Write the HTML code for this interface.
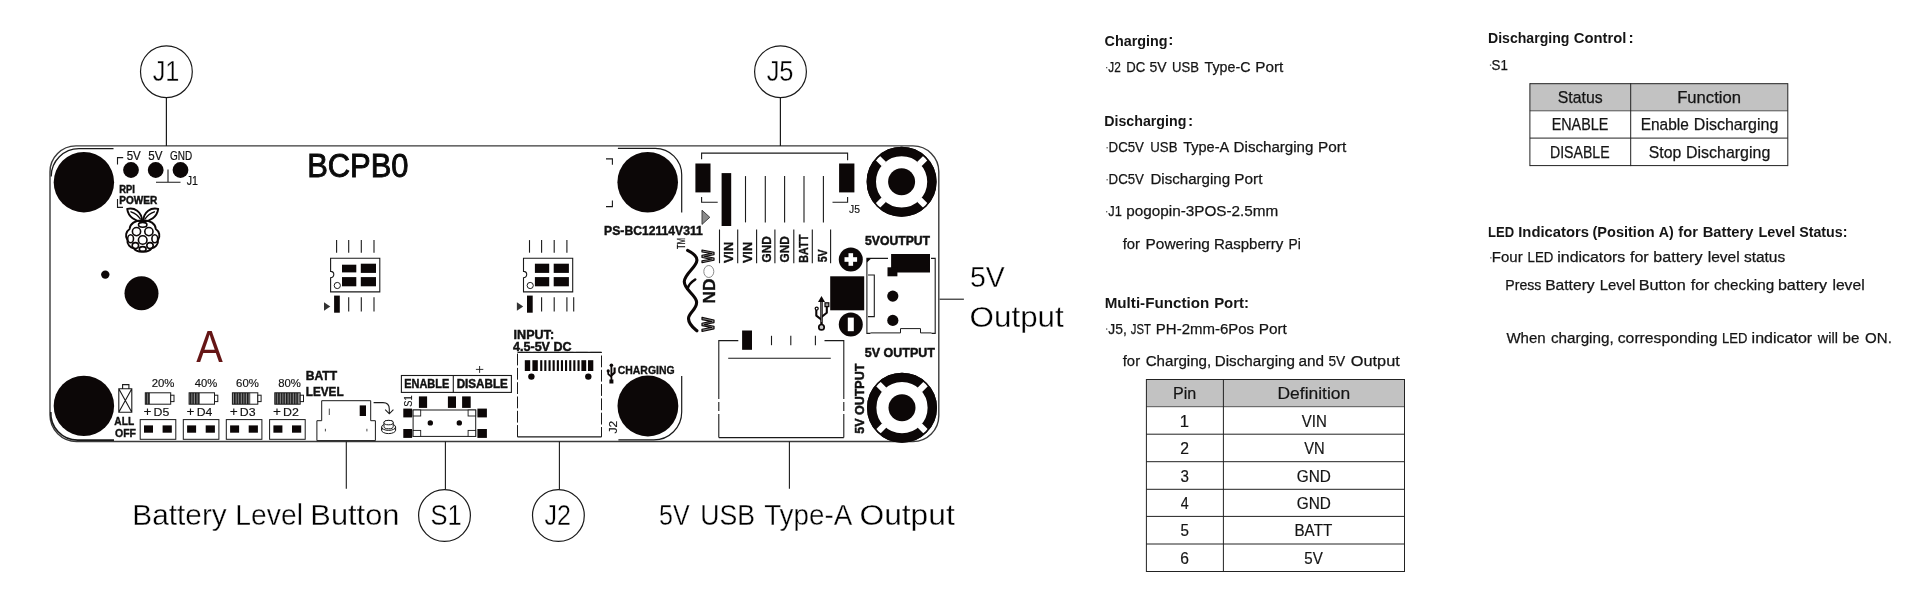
<!DOCTYPE html>
<html><head><meta charset="utf-8"><title>BCPB0</title>
<style>
html,body{margin:0;padding:0;background:#fff;overflow:hidden}
svg{display:block;will-change:transform;font-family:"Liberation Sans",sans-serif}
text{white-space:pre}
</style></head><body>
<svg width="1920" height="595" viewBox="0 0 1920 595">
<rect width="1920" height="595" fill="#fff"/>
<g id="board">
<path d="M76,145.9 H913 A25.8,25.8 0 0 1 938.8,171.7 V415.7 A25.8,25.8 0 0 1 913,441.5 H76.5 A26.5,26.5 0 0 1 50,415 V172 A26,26 0 0 1 76,145.9 Z" fill="none" stroke="#3a3a3a" stroke-width="1.4"/>
<circle cx="166.4" cy="71.7" r="25.9" fill="none" stroke="#1a1a1a" stroke-width="1.2"/>
<line x1="166.4" y1="97.6" x2="166.4" y2="145.9" stroke="#1a1a1a" stroke-width="1.2"/>
<text x="152.64" y="80.7" font-size="30.0" textLength="26.76" lengthAdjust="spacingAndGlyphs" stroke="#fff" stroke-width="0.35" fill="#000">J1</text>
<circle cx="780.5" cy="71.7" r="25.9" fill="none" stroke="#1a1a1a" stroke-width="1.2"/>
<line x1="780.4" y1="97.6" x2="780.4" y2="145.9" stroke="#1a1a1a" stroke-width="1.2"/>
<text x="766.64" y="80.7" font-size="30.0" textLength="26.88" lengthAdjust="spacingAndGlyphs" stroke="#fff" stroke-width="0.35" fill="#000">J5</text>
<line x1="346.3" y1="441.5" x2="346.3" y2="488.8" stroke="#1a1a1a" stroke-width="1.1"/>
<text x="132.34" y="524.7" font-size="30.0" textLength="94.45" lengthAdjust="spacingAndGlyphs" stroke="#fff" stroke-width="0.35" fill="#000">Battery</text>
<text x="235.36" y="524.7" font-size="30.0" textLength="67.57" lengthAdjust="spacingAndGlyphs" stroke="#fff" stroke-width="0.35" fill="#000">Level</text>
<text x="310.36" y="524.7" font-size="30.0" textLength="89.08" lengthAdjust="spacingAndGlyphs" stroke="#fff" stroke-width="0.35" fill="#000">Button</text>
<line x1="445.4" y1="441.5" x2="445.4" y2="489.6" stroke="#1a1a1a" stroke-width="1.1"/>
<circle cx="444.5" cy="515.5" r="25.9" fill="none" stroke="#1a1a1a" stroke-width="1.2"/>
<text x="430.48" y="524.7" font-size="30.0" textLength="31.23" lengthAdjust="spacingAndGlyphs" stroke="#fff" stroke-width="0.35" fill="#000">S1</text>
<line x1="559.4" y1="441.5" x2="559.4" y2="489.6" stroke="#1a1a1a" stroke-width="1.1"/>
<circle cx="558.4" cy="515.5" r="25.9" fill="none" stroke="#1a1a1a" stroke-width="1.2"/>
<text x="544.45" y="524.7" font-size="30.0" textLength="26.44" lengthAdjust="spacingAndGlyphs" stroke="#fff" stroke-width="0.35" fill="#000">J2</text>
<line x1="789.4" y1="441.5" x2="789.4" y2="488.8" stroke="#1a1a1a" stroke-width="1.1"/>
<text x="659.02" y="524.7" font-size="30.0" textLength="30.59" lengthAdjust="spacingAndGlyphs" stroke="#fff" stroke-width="0.35" fill="#000">5V</text>
<text x="700.13" y="524.7" font-size="30.0" textLength="54.81" lengthAdjust="spacingAndGlyphs" stroke="#fff" stroke-width="0.35" fill="#000">USB</text>
<text x="764.17" y="524.7" font-size="30.0" textLength="88.09" lengthAdjust="spacingAndGlyphs" stroke="#fff" stroke-width="0.35" fill="#000">Type-A</text>
<text x="859.50" y="524.7" font-size="30.0" textLength="95.22" lengthAdjust="spacingAndGlyphs" stroke="#fff" stroke-width="0.35" fill="#000">Output</text>
<line x1="939.6" y1="299.2" x2="963.9" y2="299.2" stroke="#1a1a1a" stroke-width="1.1"/>
<text x="969.89" y="287.4" font-size="30.0" textLength="34.75" lengthAdjust="spacingAndGlyphs" stroke="#fff" stroke-width="0.35" fill="#000">5V</text>
<text x="969.61" y="327.2" font-size="30.0" textLength="94.10" lengthAdjust="spacingAndGlyphs" stroke="#fff" stroke-width="0.35" fill="#000">Output</text>
<circle cx="83.9" cy="182.2" r="30.2" fill="#0c0707"/>
<circle cx="83.9" cy="405.9" r="30.2" fill="#0c0707"/>
<circle cx="647.7" cy="182.2" r="30.3" fill="#0c0707"/>
<circle cx="647.9" cy="406.0" r="30.4" fill="#0c0707"/>
<path d="M113.5,148.6 H79 A27.8,27.8 0 0 0 51.2,176.4" fill="none" stroke="#1a1a1a" stroke-width="1.3"/>
<path d="M50.8,412 A26.8,26.8 0 0 0 77.6,440.1 H114" fill="none" stroke="#1a1a1a" stroke-width="1.6"/>
<path d="M617.9,148.3 H655.2 A26.5,26.5 0 0 1 681.7,174.8 V212.6" fill="none" stroke="#1a1a1a" stroke-width="1.2"/>
<path d="M681.7,375.9 V412 A27.9,27.9 0 0 1 653.8,439.9 H618.4" fill="none" stroke="#1a1a1a" stroke-width="1.2"/>
<path d="M606,158.9 H612.4 V164.8" fill="none" stroke="#1a1a1a" stroke-width="1.1"/>
<path d="M606,206.6 H612.4 V200.5" fill="none" stroke="#1a1a1a" stroke-width="1.1"/>
<text x="307.18" y="176.5" font-size="32.6" textLength="101.39" lengthAdjust="spacingAndGlyphs" stroke="#0a0a0a" stroke-width="0.9" fill="#0a0a0a">BCPB0</text>
<circle cx="131.0" cy="170.0" r="7.9" fill="#0c0707"/>
<circle cx="155.7" cy="170.0" r="7.9" fill="#0c0707"/>
<circle cx="180.5" cy="170.0" r="7.9" fill="#0c0707"/>
<text x="126.64" y="160.4" font-size="12.4" textLength="14.13" lengthAdjust="spacingAndGlyphs" stroke="#111" stroke-width="0.2" fill="#111">5V</text>
<text x="148.34" y="160.4" font-size="12.4" textLength="14.13" lengthAdjust="spacingAndGlyphs" stroke="#111" stroke-width="0.2" fill="#111">5V</text>
<text x="170.10" y="160.4" font-size="12.4" textLength="22.17" lengthAdjust="spacingAndGlyphs" stroke="#111" stroke-width="0.2" fill="#111">GND</text>
<path d="M123.2,157.6 H117.5 V164.6" fill="none" stroke="#1a1a1a" stroke-width="1.1"/>
<path d="M117.5,199 V207.4 H123" fill="none" stroke="#1a1a1a" stroke-width="1.1"/>
<path d="M168,169.6 V182.2 M156,182.2 H180.5" fill="none" stroke="#1a1a1a" stroke-width="1.1"/>
<text x="186.84" y="184.9" font-size="12" textLength="11.17" lengthAdjust="spacingAndGlyphs" stroke="#111" stroke-width="0.2" fill="#111">J1</text>
<text x="119.32" y="193.2" font-size="10.2" font-weight="bold" textLength="15.56" lengthAdjust="spacingAndGlyphs" stroke="#111" stroke-width="0.45" fill="#111">RPI</text>
<text x="119.27" y="204.3" font-size="10.4" font-weight="bold" textLength="37.91" lengthAdjust="spacingAndGlyphs" stroke="#111" stroke-width="0.45" fill="#111">POWER</text>
<g fill="none" stroke="#0c0707" stroke-width="1.9" stroke-linecap="round" stroke-linejoin="round">
<path d="M142.2,221.2 C135.6,221.8 128.2,217 127.2,208.9 C134.4,207.2 141.6,211.2 142.2,221.2 Z"/>
<path d="M143.2,221.2 C149.8,221.8 157.2,217 158.2,208.9 C151,207.2 143.8,211.2 143.2,221.2 Z"/>
<path d="M131,211.8 C134.4,213 138.4,215.8 140.4,219 M154.4,211.8 C151,213 147,215.8 145,219" stroke-width="1.4"/>
<path d="M142.7,220.6 C135,220 130,223.8 129.6,229 C126,231.4 124.8,236.2 127.4,240.2 C126.8,244.6 130.4,247.8 133.8,248.4 C135.8,251 139.6,252 142.7,251.8 C145.8,252 149.6,251 151.6,248.4 C155,247.8 158.6,244.6 158,240.2 C160.6,236.2 159.4,231.4 155.8,229 C155.400,223.8 150.4,220 142.7,220.6 Z"/>
<ellipse cx="136.5" cy="231.6" rx="4.1" ry="4.1" stroke-width="1.6"/>
<ellipse cx="148.9" cy="231.6" rx="4.1" ry="4.1" stroke-width="1.6"/>
<ellipse cx="142.7" cy="240" rx="4.3" ry="4.3" stroke-width="1.6"/>
<ellipse cx="142.7" cy="224.8" rx="4.2" ry="2.4" stroke-width="1.6"/>
<ellipse cx="130.6" cy="238.8" rx="2.9" ry="4.0" stroke-width="1.6"/>
<ellipse cx="154.8" cy="238.8" rx="2.9" ry="4.0" stroke-width="1.6"/>
<ellipse cx="135.4" cy="245.6" rx="3.2" ry="3.0" stroke-width="1.6"/>
<ellipse cx="150" cy="245.6" rx="3.2" ry="3.0" stroke-width="1.6"/>
<ellipse cx="142.7" cy="248.9" rx="3.4" ry="2.3" stroke-width="1.6"/>
</g>
<circle cx="105.3" cy="274.6" r="4.2" fill="#0c0707"/>
<circle cx="141.5" cy="293.2" r="17.0" fill="#0c0707"/>
<text x="196.30" y="362.2" font-size="44.8" textLength="26.58" lengthAdjust="spacingAndGlyphs" fill="#651616">A</text>
<path d="M118.8,388.7 H131.8 V412.2 H118.8 Z M122.6,388.7 V384.6 H128.9 V388.7 M118.8,388.7 L131.8,412.2 M131.8,388.7 L118.8,412.2" fill="none" stroke="#1a1a1a" stroke-width="1.1"/>
<text x="114.32" y="424.9" font-size="10.6" font-weight="bold" textLength="19.80" lengthAdjust="spacingAndGlyphs" stroke="#111" stroke-width="0.35" fill="#111">ALL</text>
<text x="114.95" y="436.9" font-size="10.8" font-weight="bold" textLength="21.06" lengthAdjust="spacingAndGlyphs" stroke="#111" stroke-width="0.35" fill="#111">OFF</text>
<defs><pattern id="hat" width="2.6" height="4" patternUnits="userSpaceOnUse"><rect width="2.6" height="4" fill="#8a8a8a"/><rect width="1.5" height="4" fill="#1a1a1a"/></pattern></defs>
<rect x="145.3" y="392.8" width="4.6" height="11.4" fill="url(#hat)"/>
<rect x="145.3" y="392.8" width="25.4" height="11.4" fill="none" stroke="#1a1a1a" stroke-width="1"/>
<rect x="170.7" y="395.2" width="3.3" height="6.4" fill="#fff" stroke="#1a1a1a" stroke-width="1"/>
<text x="151.71" y="386.9" font-size="11.2" textLength="22.81" lengthAdjust="spacingAndGlyphs" stroke="#111" stroke-width="0.15" fill="#111">20%</text>
<text x="143.43" y="416.2" font-size="12" textLength="7.97" lengthAdjust="spacingAndGlyphs" stroke="#111" stroke-width="0.15" fill="#111">+</text>
<text x="153.49" y="416.2" font-size="11.4" textLength="15.74" lengthAdjust="spacingAndGlyphs" stroke="#111" stroke-width="0.15" fill="#111">D5</text>
<rect x="140.2" y="419.6" width="35.6" height="19.7" fill="none" stroke="#1a1a1a" stroke-width="1"/>
<rect x="144.0" y="425.4" width="9.0" height="7.3" fill="#0c0707"/>
<rect x="162.6" y="425.4" width="9.2" height="7.3" fill="#0c0707"/>
<rect x="189.1" y="392.8" width="10.9" height="11.4" fill="url(#hat)"/>
<rect x="189.1" y="392.8" width="25.4" height="11.4" fill="none" stroke="#1a1a1a" stroke-width="1"/>
<rect x="214.5" y="395.2" width="3.3" height="6.4" fill="#fff" stroke="#1a1a1a" stroke-width="1"/>
<text x="194.82" y="386.9" font-size="11.2" textLength="22.48" lengthAdjust="spacingAndGlyphs" stroke="#111" stroke-width="0.15" fill="#111">40%</text>
<text x="186.63" y="416.2" font-size="12" textLength="7.97" lengthAdjust="spacingAndGlyphs" stroke="#111" stroke-width="0.15" fill="#111">+</text>
<text x="196.70" y="416.2" font-size="11.4" textLength="15.57" lengthAdjust="spacingAndGlyphs" stroke="#111" stroke-width="0.15" fill="#111">D4</text>
<rect x="183.3" y="419.6" width="35.6" height="19.7" fill="none" stroke="#1a1a1a" stroke-width="1"/>
<rect x="187.1" y="425.4" width="9.0" height="7.3" fill="#0c0707"/>
<rect x="205.7" y="425.4" width="9.2" height="7.3" fill="#0c0707"/>
<rect x="232.4" y="392.8" width="17.8" height="11.4" fill="url(#hat)"/>
<rect x="232.4" y="392.8" width="25.4" height="11.4" fill="none" stroke="#1a1a1a" stroke-width="1"/>
<rect x="257.8" y="395.2" width="3.3" height="6.4" fill="#fff" stroke="#1a1a1a" stroke-width="1"/>
<text x="236.11" y="386.9" font-size="11.2" textLength="22.81" lengthAdjust="spacingAndGlyphs" stroke="#111" stroke-width="0.15" fill="#111">60%</text>
<text x="229.73" y="416.2" font-size="12" textLength="7.97" lengthAdjust="spacingAndGlyphs" stroke="#111" stroke-width="0.15" fill="#111">+</text>
<text x="239.79" y="416.2" font-size="11.4" textLength="15.77" lengthAdjust="spacingAndGlyphs" stroke="#111" stroke-width="0.15" fill="#111">D3</text>
<rect x="226.3" y="419.6" width="35.6" height="19.7" fill="none" stroke="#1a1a1a" stroke-width="1"/>
<rect x="230.1" y="425.4" width="9.0" height="7.3" fill="#0c0707"/>
<rect x="248.7" y="425.4" width="9.2" height="7.3" fill="#0c0707"/>
<rect x="274.8" y="392.8" width="24.6" height="11.4" fill="url(#hat)"/>
<rect x="274.8" y="392.8" width="25.4" height="11.4" fill="none" stroke="#1a1a1a" stroke-width="1"/>
<rect x="300.2" y="395.2" width="3.3" height="6.4" fill="#fff" stroke="#1a1a1a" stroke-width="1"/>
<text x="278.19" y="386.9" font-size="11.2" textLength="22.72" lengthAdjust="spacingAndGlyphs" stroke="#111" stroke-width="0.15" fill="#111">80%</text>
<text x="273.03" y="416.2" font-size="12" textLength="7.97" lengthAdjust="spacingAndGlyphs" stroke="#111" stroke-width="0.15" fill="#111">+</text>
<text x="283.08" y="416.2" font-size="11.4" textLength="15.84" lengthAdjust="spacingAndGlyphs" stroke="#111" stroke-width="0.15" fill="#111">D2</text>
<rect x="269.6" y="419.6" width="35.6" height="19.7" fill="none" stroke="#1a1a1a" stroke-width="1"/>
<rect x="273.4" y="425.4" width="9.0" height="7.3" fill="#0c0707"/>
<rect x="292.0" y="425.4" width="9.2" height="7.3" fill="#0c0707"/>
<text x="305.74" y="380.3" font-size="12.6" font-weight="bold" textLength="31.35" lengthAdjust="spacingAndGlyphs" stroke="#111" stroke-width="0.45" fill="#111">BATT</text>
<text x="305.76" y="395.8" font-size="12.6" font-weight="bold" textLength="37.84" lengthAdjust="spacingAndGlyphs" stroke="#111" stroke-width="0.45" fill="#111">LEVEL</text>
<path d="M321.7,420.7 V400.7 H370.7 V420.7 H375.4 V440.6 H316.9 V420.7 Z" fill="#fff" stroke="#1a1a1a" stroke-width="1"/>
<rect x="359.7" y="405.4" width="6.3" height="10.6" fill="#0c0707"/>
<line x1="329.3" y1="408.6" x2="329.3" y2="415.0" stroke="#1a1a1a" stroke-width="0.8"/>
<line x1="325.4" y1="428.8" x2="325.4" y2="431.4" stroke="#1a1a1a" stroke-width="0.8"/>
<line x1="366.9" y1="428.8" x2="366.9" y2="431.4" stroke="#1a1a1a" stroke-width="0.8"/>
<path d="M373.6,402.6 H383 Q389.3,402.6 389.3,409 V413.4 M385.2,409.6 L389.3,413.8 L393.4,409.6" fill="none" stroke="#1a1a1a" stroke-width="1.1"/>
<g fill="#fff" stroke="#1a1a1a" stroke-width="1">
<ellipse cx="388.6" cy="430.2" rx="7" ry="3.4"/>
<path d="M381.6,427 V430.2 M395.6,427 V430.2" />
<ellipse cx="388.6" cy="427" rx="7" ry="3.4"/>
<path d="M384,426.6 V422.6 A4.6,2.2 0 0 1 393.2,422.6 V426.6 A4.6,2.2 0 0 1 384,426.6 Z"/>
<ellipse cx="388.6" cy="422.6" rx="4.6" ry="2.2"/>
</g>
<rect x="401.4" y="375.5" width="110.0" height="16.9" fill="none" stroke="#1a1a1a" stroke-width="1.1"/>
<line x1="453.3" y1="375.5" x2="453.3" y2="392.4" stroke="#1a1a1a" stroke-width="1.1"/>
<text x="404.32" y="387.8" font-size="11.9" font-weight="bold" textLength="44.86" lengthAdjust="spacingAndGlyphs" stroke="#111" stroke-width="0.45" fill="#111">ENABLE</text>
<text x="456.67" y="387.8" font-size="11.9" font-weight="bold" textLength="51.14" lengthAdjust="spacingAndGlyphs" stroke="#111" stroke-width="0.45" fill="#111">DISABLE</text>
<path d="M475.9,369.4 H483.3 M479.6,366 V372.9" fill="none" stroke="#1a1a1a" stroke-width="0.9"/>
<text transform="translate(411.8,406.74) rotate(-90)" font-size="10.8" textLength="11.31" lengthAdjust="spacingAndGlyphs" stroke="#111" stroke-width="0.15" fill="#111">S1</text>
<rect x="418.9" y="396.4" width="8.2" height="11.5" fill="#0c0707"/>
<rect x="447.9" y="396.4" width="8.1" height="11.5" fill="#0c0707"/>
<rect x="462.1" y="396.4" width="8.6" height="11.5" fill="#0c0707"/>
<rect x="413.1" y="410.0" width="62.6" height="26.4" fill="#fff" stroke="#1a1a1a" stroke-width="1"/>
<rect x="413.1" y="410.0" width="7.6" height="6.0" fill="#fff" stroke="#1a1a1a" stroke-width="0.9"/>
<rect x="468.1" y="410.0" width="7.6" height="6.0" fill="#fff" stroke="#1a1a1a" stroke-width="0.9"/>
<rect x="413.1" y="430.4" width="7.6" height="6.0" fill="#fff" stroke="#1a1a1a" stroke-width="0.9"/>
<rect x="468.1" y="430.4" width="7.6" height="6.0" fill="#fff" stroke="#1a1a1a" stroke-width="0.9"/>
<rect x="403.3" y="408.6" width="8.8" height="8.8" fill="#0c0707"/>
<rect x="403.3" y="429.0" width="8.8" height="8.9" fill="#0c0707"/>
<rect x="477.4" y="408.6" width="9.5" height="8.8" fill="#0c0707"/>
<rect x="477.4" y="429.0" width="9.5" height="8.9" fill="#0c0707"/>
<circle cx="430.3" cy="422.9" r="2.7" fill="#0c0707"/>
<circle cx="459.3" cy="422.9" r="2.7" fill="#0c0707"/>
<line x1="336.6" y1="240.1" x2="336.6" y2="252.7" stroke="#1a1a1a" stroke-width="1.1"/>
<line x1="348.7" y1="240.1" x2="348.7" y2="252.7" stroke="#1a1a1a" stroke-width="1.1"/>
<line x1="361.3" y1="240.1" x2="361.3" y2="252.7" stroke="#1a1a1a" stroke-width="1.1"/>
<line x1="374.0" y1="240.1" x2="374.0" y2="252.7" stroke="#1a1a1a" stroke-width="1.1"/>
<path d="M330.6,258.3 H379.8 V291.9 H330.6 V277.8 A3.2,3.2 0 0 0 330.6,271.4 Z" fill="none" stroke="#1a1a1a" stroke-width="1.1"/>
<rect x="342.0" y="264.7" width="14.3" height="7.7" fill="#0c0707"/>
<rect x="360.8" y="263.7" width="15.2" height="9.2" fill="#0c0707"/>
<rect x="342.0" y="277.1" width="14.3" height="9.2" fill="#0c0707"/>
<rect x="360.8" y="277.1" width="15.2" height="9.2" fill="#0c0707"/>
<circle cx="337.3" cy="285.5" r="3.1" fill="#fff" stroke="#1a1a1a" stroke-width="1"/>
<path d="M324.0,302.3 L330.3,306.5 L324.0,310.7 Z" fill="#333" stroke="none" stroke-width="1.1"/>
<rect x="334.1" y="295.6" width="5.7" height="17.1" fill="#0c0707"/>
<line x1="348.7" y1="297.3" x2="348.7" y2="311.6" stroke="#1a1a1a" stroke-width="1.1"/>
<line x1="361.3" y1="297.3" x2="361.3" y2="311.6" stroke="#1a1a1a" stroke-width="1.1"/>
<line x1="374.0" y1="297.3" x2="374.0" y2="311.6" stroke="#1a1a1a" stroke-width="1.1"/>
<line x1="529.5" y1="240.1" x2="529.5" y2="252.7" stroke="#1a1a1a" stroke-width="1.1"/>
<line x1="541.6" y1="240.1" x2="541.6" y2="252.7" stroke="#1a1a1a" stroke-width="1.1"/>
<line x1="554.2" y1="240.1" x2="554.2" y2="252.7" stroke="#1a1a1a" stroke-width="1.1"/>
<line x1="566.9" y1="240.1" x2="566.9" y2="252.7" stroke="#1a1a1a" stroke-width="1.1"/>
<path d="M523.5,258.3 H572.7 V291.9 H523.5 V277.8 A3.2,3.2 0 0 0 523.5,271.4 Z" fill="none" stroke="#1a1a1a" stroke-width="1.1"/>
<rect x="534.9" y="263.7" width="14.3" height="9.2" fill="#0c0707"/>
<rect x="553.7" y="263.7" width="15.2" height="9.2" fill="#0c0707"/>
<rect x="534.9" y="277.1" width="14.3" height="9.2" fill="#0c0707"/>
<rect x="553.7" y="277.1" width="15.2" height="9.2" fill="#0c0707"/>
<circle cx="530.2" cy="285.5" r="3.1" fill="#fff" stroke="#1a1a1a" stroke-width="1"/>
<path d="M516.9,302.3 L523.2,306.5 L516.9,310.7 Z" fill="#333" stroke="none" stroke-width="1.1"/>
<rect x="527.0" y="295.6" width="5.7" height="17.1" fill="#0c0707"/>
<line x1="541.6" y1="297.3" x2="541.6" y2="311.6" stroke="#1a1a1a" stroke-width="1.1"/>
<line x1="554.2" y1="297.3" x2="554.2" y2="311.6" stroke="#1a1a1a" stroke-width="1.1"/>
<line x1="566.9" y1="297.3" x2="566.9" y2="311.6" stroke="#1a1a1a" stroke-width="1.1"/>
<line x1="573.7" y1="297.3" x2="573.7" y2="311.6" stroke="#1a1a1a" stroke-width="1.1"/>
<text x="513.61" y="339.0" font-size="12.5" font-weight="bold" textLength="40.46" lengthAdjust="spacingAndGlyphs" stroke="#111" stroke-width="0.45" fill="#111">INPUT:</text>
<text x="513.04" y="351.2" font-size="12" font-weight="bold" textLength="58.57" lengthAdjust="spacingAndGlyphs" stroke="#111" stroke-width="0.45" fill="#111">4.5-5V DC</text>
<path d="M517.5,436.9 V352.4 H601.5 V436.9" fill="none" stroke="#1a1a1a" stroke-width="1" stroke-dasharray="11.8 2.5"/>
<line x1="517.5" y1="352.4" x2="601.5" y2="352.4" stroke="#1a1a1a" stroke-width="1.1"/>
<line x1="517.5" y1="436.9" x2="601.5" y2="436.9" stroke="#1a1a1a" stroke-width="1.1"/>
<rect x="524.8" y="360.2" width="5.4" height="10.8" fill="#0c0707"/>
<rect x="532.4" y="360.2" width="5.4" height="10.8" fill="#0c0707"/>
<rect x="540.2" y="360.2" width="2.1" height="10.8" fill="#0c0707"/>
<rect x="544.3" y="360.2" width="2.1" height="10.8" fill="#0c0707"/>
<rect x="548.5" y="360.2" width="2.1" height="10.8" fill="#0c0707"/>
<rect x="552.6" y="360.2" width="2.1" height="10.8" fill="#0c0707"/>
<rect x="556.8" y="360.2" width="2.1" height="10.8" fill="#0c0707"/>
<rect x="560.9" y="360.2" width="2.1" height="10.8" fill="#0c0707"/>
<rect x="565.0" y="360.2" width="2.1" height="10.8" fill="#0c0707"/>
<rect x="569.2" y="360.2" width="2.1" height="10.8" fill="#0c0707"/>
<rect x="573.3" y="360.2" width="2.1" height="10.8" fill="#0c0707"/>
<rect x="577.5" y="360.2" width="2.1" height="10.8" fill="#0c0707"/>
<rect x="581.4" y="360.2" width="4.8" height="10.8" fill="#0c0707"/>
<rect x="588.0" y="360.2" width="5.3" height="10.8" fill="#0c0707"/>
<circle cx="531.4" cy="376.6" r="3.2" fill="#0c0707"/>
<circle cx="588.3" cy="376.6" r="3.2" fill="#0c0707"/>
<g fill="none" stroke="#0c0707" stroke-linejoin="round">
<path d="M611.4,364.8 V381" stroke-width="1.8"/>
<path d="M611.4,376.8 L608.2,374 V371.2" stroke-width="1.7"/>
<path d="M611.4,375.4 L614.6,372.6 V367.6" stroke-width="2.1"/>
</g>
<circle cx="611.4" cy="365.3" r="1.8" fill="#0c0707"/>
<circle cx="608.2" cy="370.9" r="1.6" fill="#0c0707"/>
<rect x="609.4" y="379.5" width="4.0" height="4.0" fill="#0c0707"/>
<text x="617.76" y="374.3" font-size="11.3" font-weight="bold" textLength="56.79" lengthAdjust="spacingAndGlyphs" stroke="#111" stroke-width="0.35" fill="#111">CHARGING</text>
<text transform="translate(617.2,433.51) rotate(-90)" font-size="11.6" textLength="12.72" lengthAdjust="spacingAndGlyphs" stroke="#111" stroke-width="0.15" fill="#111">J2</text>
<text x="604.14" y="235.0" font-size="12.1" font-weight="bold" textLength="98.64" lengthAdjust="spacingAndGlyphs" stroke="#111" stroke-width="0.45" fill="#111">PS-BC12114V311</text>
<path d="M701.6,159.3 V153.1 H847.6 V160.2" fill="none" stroke="#1a1a1a" stroke-width="1.1"/>
<rect x="695.4" y="163.5" width="15.1" height="28.9" fill="#0c0707"/>
<rect x="839.1" y="163.5" width="15.3" height="28.9" fill="#0c0707"/>
<path d="M701.6,197.1 V202.2 H717.7" fill="none" stroke="#1a1a1a" stroke-width="1.1"/>
<path d="M847.6,197.1 V202.2 H832.5" fill="none" stroke="#1a1a1a" stroke-width="1.1"/>
<path d="M702,210.2 L709.8,217.3 L702,224.4 Z" fill="#8a8a8a" stroke="#333" stroke-width="0.9"/>
<rect x="721.6" y="173.1" width="9.6" height="52.9" fill="#0c0707"/>
<line x1="745.5" y1="176.1" x2="745.5" y2="222.4" stroke="#1a1a1a" stroke-width="1.1"/>
<line x1="765.3" y1="176.1" x2="765.3" y2="222.4" stroke="#1a1a1a" stroke-width="1.1"/>
<line x1="784.6" y1="176.1" x2="784.6" y2="222.4" stroke="#1a1a1a" stroke-width="1.1"/>
<line x1="804.0" y1="176.1" x2="804.0" y2="222.4" stroke="#1a1a1a" stroke-width="1.1"/>
<line x1="823.4" y1="176.1" x2="823.4" y2="222.4" stroke="#1a1a1a" stroke-width="1.1"/>
<text x="849.12" y="213.2" font-size="10.6" textLength="10.93" lengthAdjust="spacingAndGlyphs" stroke="#111" stroke-width="0.15" fill="#111">J5</text>
<line x1="719.5" y1="229.5" x2="719.5" y2="263.2" stroke="#1a1a1a" stroke-width="1.1"/>
<line x1="737.7" y1="229.5" x2="737.7" y2="263.2" stroke="#1a1a1a" stroke-width="1.1"/>
<line x1="756.6" y1="229.5" x2="756.6" y2="263.2" stroke="#1a1a1a" stroke-width="1.1"/>
<line x1="774.9" y1="229.5" x2="774.9" y2="263.2" stroke="#1a1a1a" stroke-width="1.1"/>
<line x1="793.8" y1="229.5" x2="793.8" y2="263.2" stroke="#1a1a1a" stroke-width="1.1"/>
<line x1="812.3" y1="229.5" x2="812.3" y2="263.2" stroke="#1a1a1a" stroke-width="1.1"/>
<line x1="830.6" y1="229.5" x2="830.6" y2="263.2" stroke="#1a1a1a" stroke-width="1.1"/>
<text transform="translate(733.0,263.09) rotate(-90)" font-size="13.4" font-weight="bold" textLength="21.16" lengthAdjust="spacingAndGlyphs" stroke="#111" stroke-width="0.35" fill="#111">VIN</text>
<text transform="translate(752.0,263.09) rotate(-90)" font-size="13.4" font-weight="bold" textLength="21.16" lengthAdjust="spacingAndGlyphs" stroke="#111" stroke-width="0.35" fill="#111">VIN</text>
<text transform="translate(771.0,262.50) rotate(-90)" font-size="13.4" font-weight="bold" textLength="26.19" lengthAdjust="spacingAndGlyphs" stroke="#111" stroke-width="0.35" fill="#111">GND</text>
<text transform="translate(789.4,262.50) rotate(-90)" font-size="13.4" font-weight="bold" textLength="26.19" lengthAdjust="spacingAndGlyphs" stroke="#111" stroke-width="0.35" fill="#111">GND</text>
<text transform="translate(807.8,262.73) rotate(-90)" font-size="13.4" font-weight="bold" textLength="28.06" lengthAdjust="spacingAndGlyphs" stroke="#111" stroke-width="0.35" fill="#111">BATT</text>
<text transform="translate(826.6,262.34) rotate(-90)" font-size="13.4" font-weight="bold" textLength="13.03" lengthAdjust="spacingAndGlyphs" stroke="#111" stroke-width="0.35" fill="#111">5V</text>
<text transform="translate(685.3,248.92) rotate(-90)" font-size="11.2" textLength="10.81" lengthAdjust="spacingAndGlyphs" stroke="#111" stroke-width="0.25" fill="#111">TM</text>
<path d="M687.6,250.4 C692.5,252.8 697.2,255.8 696.9,260.4 C696.4,267.5 684.8,273.5 684.3,281.5 C683.9,289 694.5,294 696.4,301 C698.4,308.5 688.4,312.5 688.5,318.6 C688.6,324.4 693.5,328 696.9,330.8" fill="none" stroke="#0c0707" stroke-width="3.1" stroke-linecap="round"/>
<path d="M695.2,279.5 C691,282.2 688.4,285.4 687.6,288.7" fill="none" stroke="#0c0707" stroke-width="2.6" stroke-linecap="round"/>
<text transform="translate(714.4,331.38) rotate(-90)" font-size="16.6" font-weight="bold" textLength="14.13" lengthAdjust="spacingAndGlyphs" stroke="#0c0707" stroke-width="1.25" stroke-linejoin="round" fill="#8c8c8c">W</text>
<text transform="translate(715.0,303.45) rotate(-90)" font-size="16.8" font-weight="bold" textLength="24.95" lengthAdjust="spacingAndGlyphs" stroke="#111" stroke-width="0.35" fill="#111">ND</text>
<ellipse cx="708.8" cy="271.5" rx="5" ry="6" fill="none" stroke="#8a8a8a" stroke-width="1"/>
<text transform="translate(714.4,262.77) rotate(-90)" font-size="16.6" font-weight="bold" textLength="12.83" lengthAdjust="spacingAndGlyphs" stroke="#0c0707" stroke-width="1.25" stroke-linejoin="round" fill="#8c8c8c">W</text>
<circle cx="901.6" cy="181.8" r="30.3" fill="none" stroke="#0c0707" stroke-width="9.4"/>
<rect x="926.6" y="178.7" width="9.6" height="6.2" fill="#fff" transform="rotate(45 901.6 181.8)"/>
<rect x="926.6" y="178.7" width="9.6" height="6.2" fill="#fff" transform="rotate(135 901.6 181.8)"/>
<rect x="926.6" y="178.7" width="9.6" height="6.2" fill="#fff" transform="rotate(225 901.6 181.8)"/>
<rect x="926.6" y="178.7" width="9.6" height="6.2" fill="#fff" transform="rotate(315 901.6 181.8)"/>
<circle cx="901.6" cy="181.8" r="34.2" fill="none" stroke="#0c0707" stroke-width="1.5"/>
<circle cx="901.6" cy="181.8" r="13.5" fill="#0c0707"/>
<circle cx="902.0" cy="407.7" r="30.3" fill="none" stroke="#0c0707" stroke-width="9.4"/>
<rect x="927.0" y="404.6" width="9.6" height="6.2" fill="#fff" transform="rotate(45 902.0 407.7)"/>
<rect x="927.0" y="404.6" width="9.6" height="6.2" fill="#fff" transform="rotate(135 902.0 407.7)"/>
<rect x="927.0" y="404.6" width="9.6" height="6.2" fill="#fff" transform="rotate(225 902.0 407.7)"/>
<rect x="927.0" y="404.6" width="9.6" height="6.2" fill="#fff" transform="rotate(315 902.0 407.7)"/>
<circle cx="902.0" cy="407.7" r="34.2" fill="none" stroke="#0c0707" stroke-width="1.5"/>
<circle cx="902.0" cy="407.7" r="13.5" fill="#0c0707"/>
<text x="864.98" y="244.5" font-size="12.4" font-weight="bold" textLength="65.08" lengthAdjust="spacingAndGlyphs" stroke="#111" stroke-width="0.5" fill="#111">5VOUTPUT</text>
<circle cx="850.8" cy="259.5" r="12.0" fill="#0c0707"/>
<rect x="848.5" y="253.2" width="4.6" height="12.6" fill="#fff"/>
<rect x="844.5" y="257.2" width="12.6" height="4.6" fill="#fff"/>
<circle cx="850.8" cy="324.4" r="12.0" fill="#0c0707"/>
<rect x="847.8" y="317.6" width="6.0" height="13.6" fill="#fff"/>
<rect x="830.2" y="276.3" width="34.0" height="34.0" fill="#0c0707"/>
<path d="M888,258.4 H866.9 V333.4 H870.5" fill="none" stroke="#1a1a1a" stroke-width="1.1"/>
<path d="M866.9,258.4 H871.2 L866.9,262.6 Z" fill="#0c0707" stroke="none" stroke-width="1.1"/>
<path d="M868,275 H874.3 V316.6 H868" fill="none" stroke="#1a1a1a" stroke-width="1.1"/>
<rect x="891.1" y="254.0" width="38.9" height="18.5" fill="#0c0707"/>
<rect x="887.5" y="267.3" width="9.9" height="9.0" fill="#0c0707"/>
<circle cx="892.8" cy="296.1" r="5.6" fill="#0c0707"/>
<circle cx="892.8" cy="320.4" r="5.6" fill="#0c0707"/>
<path d="M931,258.4 H935.2 V333.4 H931.5" fill="none" stroke="#1a1a1a" stroke-width="1.1"/>
<path d="M870.5,332.9 H900.5 V328.6 H920.5 V332.9 H931.5" fill="none" stroke="#1a1a1a" stroke-width="1"/>
<g fill="none" stroke="#0c0707" stroke-linejoin="round">
<path d="M821.5,300.5 V324" stroke-width="2.5"/>
<path d="M821.5,319.8 L816.3,315.6 V309.4" stroke-width="2.1"/>
<path d="M821.5,317 L826.8,312.8 V306" stroke-width="2.1"/>
</g>
<path d="M818,301.9 L821.5,295.9 L825,301.9 Z" fill="#0c0707" stroke="none" stroke-width="1.1"/>
<circle cx="821.5" cy="327.2" r="2.7" fill="#c8c8c8" stroke="#0c0707" stroke-width="1.7"/>
<circle cx="816.7" cy="308.6" r="1.5" fill="#fff" stroke="#0c0707" stroke-width="1.3"/>
<rect x="825.0" y="302.8" width="3.8" height="3.8" fill="#999" stroke="#0c0707" stroke-width="1.2"/>
<line x1="821.5" y1="302.0" x2="821.5" y2="322.0" stroke="#9a9a9a" stroke-width="0.6"/>
<path d="M738.3,340.6 H718.8 V386 M843.8,386 V340.6 H824.5 M718.8,437.6 H843.8" fill="none" stroke="#1a1a1a" stroke-width="1.1"/>
<path d="M718.8,386 V437.6 M843.8,386 V437.6" fill="none" stroke="#1a1a1a" stroke-width="1.1" stroke-dasharray="13 3 9 3 30 0"/>
<rect x="742.1" y="330.5" width="9.9" height="19.3" fill="#0c0707"/>
<line x1="771.5" y1="335.8" x2="771.5" y2="345.2" stroke="#1a1a1a" stroke-width="1.1"/>
<line x1="790.8" y1="335.8" x2="790.8" y2="345.2" stroke="#1a1a1a" stroke-width="1.1"/>
<line x1="815.4" y1="335.8" x2="815.4" y2="345.2" stroke="#1a1a1a" stroke-width="1.1"/>
<line x1="728.2" y1="358.2" x2="830.8" y2="358.2" stroke="#1a1a1a" stroke-width="1.1"/>
<text x="864.77" y="357.3" font-size="13.4" font-weight="bold" textLength="70.19" lengthAdjust="spacingAndGlyphs" stroke="#111" stroke-width="0.5" fill="#111">5V OUTPUT</text>
<text transform="translate(864.3,433.72) rotate(-90)" font-size="13.4" font-weight="bold" textLength="69.99" lengthAdjust="spacingAndGlyphs" stroke="#111" stroke-width="0.5" fill="#111">5V OUTPUT</text>
</g>
<g id="info">
<text x="1104.53" y="45.8" font-size="15.5" font-weight="bold" textLength="63.03" lengthAdjust="spacingAndGlyphs" fill="#151515">Charging</text>
<text x="1168.30" y="45.2" font-size="15.5" font-weight="bold" fill="#151515">:</text>
<rect x="1106.0" y="67.0" width="1.3" height="1.3" fill="#555"/>
<text x="1108.25" y="72.2" font-size="15.3" textLength="12.50" lengthAdjust="spacingAndGlyphs" stroke="#151515" stroke-width="0.25" fill="#151515">J2</text>
<text x="1126.37" y="72.2" font-size="15.3" textLength="18.99" lengthAdjust="spacingAndGlyphs" stroke="#151515" stroke-width="0.25" fill="#151515">DC</text>
<text x="1149.57" y="72.2" font-size="15.3" textLength="17.09" lengthAdjust="spacingAndGlyphs" stroke="#151515" stroke-width="0.25" fill="#151515">5V</text>
<text x="1172.04" y="72.2" font-size="15.3" textLength="26.90" lengthAdjust="spacingAndGlyphs" stroke="#151515" stroke-width="0.25" fill="#151515">USB</text>
<text x="1204.54" y="72.2" font-size="15.3" textLength="45.88" lengthAdjust="spacingAndGlyphs" stroke="#151515" stroke-width="0.25" fill="#151515">Type-C</text>
<text x="1255.20" y="72.2" font-size="15.3" textLength="28.07" lengthAdjust="spacingAndGlyphs" stroke="#151515" stroke-width="0.25" fill="#151515">Port</text>
<text x="1104.18" y="126.3" font-size="15.5" font-weight="bold" textLength="82.17" lengthAdjust="spacingAndGlyphs" fill="#151515">Discharging</text>
<text x="1187.90" y="125.7" font-size="15.5" font-weight="bold" fill="#151515">:</text>
<rect x="1106.5" y="147.1" width="1.3" height="1.3" fill="#555"/>
<text x="1108.56" y="152.3" font-size="15.3" textLength="35.38" lengthAdjust="spacingAndGlyphs" stroke="#151515" stroke-width="0.25" fill="#151515">DC5V</text>
<text x="1150.34" y="152.3" font-size="15.3" textLength="27.11" lengthAdjust="spacingAndGlyphs" stroke="#151515" stroke-width="0.25" fill="#151515">USB</text>
<text x="1183.13" y="152.3" font-size="15.3" textLength="46.09" lengthAdjust="spacingAndGlyphs" stroke="#151515" stroke-width="0.25" fill="#151515">Type-A</text>
<text x="1233.62" y="152.3" font-size="15.3" textLength="79.81" lengthAdjust="spacingAndGlyphs" stroke="#151515" stroke-width="0.25" fill="#151515">Discharging</text>
<text x="1318.00" y="152.3" font-size="15.3" textLength="28.18" lengthAdjust="spacingAndGlyphs" stroke="#151515" stroke-width="0.25" fill="#151515">Port</text>
<rect x="1106.5" y="179.1" width="1.3" height="1.3" fill="#555"/>
<text x="1108.56" y="184.3" font-size="15.3" textLength="35.38" lengthAdjust="spacingAndGlyphs" stroke="#151515" stroke-width="0.25" fill="#151515">DC5V</text>
<text x="1150.42" y="184.3" font-size="15.3" textLength="79.71" lengthAdjust="spacingAndGlyphs" stroke="#151515" stroke-width="0.25" fill="#151515">Discharging</text>
<text x="1234.30" y="184.3" font-size="15.3" textLength="28.18" lengthAdjust="spacingAndGlyphs" stroke="#151515" stroke-width="0.25" fill="#151515">Port</text>
<rect x="1106.0" y="211.1" width="1.3" height="1.3" fill="#555"/>
<text x="1108.33" y="216.3" font-size="15.3" textLength="13.57" lengthAdjust="spacingAndGlyphs" stroke="#151515" stroke-width="0.25" fill="#151515">J1</text>
<text x="1126.27" y="216.3" font-size="15.3" textLength="151.99" lengthAdjust="spacingAndGlyphs" stroke="#151515" stroke-width="0.25" fill="#151515">pogopin-3POS-2.5mm</text>
<text x="1122.64" y="248.8" font-size="15.3" textLength="17.35" lengthAdjust="spacingAndGlyphs" stroke="#151515" stroke-width="0.25" fill="#151515">for</text>
<text x="1145.59" y="248.8" font-size="15.3" textLength="64.27" lengthAdjust="spacingAndGlyphs" stroke="#151515" stroke-width="0.25" fill="#151515">Powering</text>
<text x="1214.02" y="248.8" font-size="15.3" textLength="69.36" lengthAdjust="spacingAndGlyphs" stroke="#151515" stroke-width="0.25" fill="#151515">Raspberry</text>
<text x="1288.62" y="248.8" font-size="15.3" textLength="12.27" lengthAdjust="spacingAndGlyphs" stroke="#151515" stroke-width="0.25" fill="#151515">Pi</text>
<text x="1104.71" y="307.5" font-size="15.5" font-weight="bold" textLength="104.53" lengthAdjust="spacingAndGlyphs" fill="#151515">Multi-Function</text>
<text x="1214.13" y="307.5" font-size="15.5" font-weight="bold" textLength="34.90" lengthAdjust="spacingAndGlyphs" fill="#151515">Port:</text>
<rect x="1106.0" y="328.4" width="1.3" height="1.3" fill="#555"/>
<text x="1108.32" y="333.6" font-size="15.3" textLength="18.49" lengthAdjust="spacingAndGlyphs" stroke="#151515" stroke-width="0.25" fill="#151515">J5,</text>
<text x="1130.86" y="333.6" font-size="15.3" textLength="20.05" lengthAdjust="spacingAndGlyphs" stroke="#151515" stroke-width="0.25" fill="#151515">JST</text>
<text x="1155.83" y="333.6" font-size="15.3" textLength="98.26" lengthAdjust="spacingAndGlyphs" stroke="#151515" stroke-width="0.25" fill="#151515">PH-2mm-6Pos</text>
<text x="1258.70" y="333.6" font-size="15.3" textLength="28.18" lengthAdjust="spacingAndGlyphs" stroke="#151515" stroke-width="0.25" fill="#151515">Port</text>
<text x="1122.74" y="366.3" font-size="15.3" textLength="17.35" lengthAdjust="spacingAndGlyphs" stroke="#151515" stroke-width="0.25" fill="#151515">for</text>
<text x="1145.67" y="366.3" font-size="15.3" textLength="65.55" lengthAdjust="spacingAndGlyphs" stroke="#151515" stroke-width="0.25" fill="#151515">Charging,</text>
<text x="1214.81" y="366.3" font-size="15.3" textLength="80.12" lengthAdjust="spacingAndGlyphs" stroke="#151515" stroke-width="0.25" fill="#151515">Discharging</text>
<text x="1298.57" y="366.3" font-size="15.3" textLength="25.58" lengthAdjust="spacingAndGlyphs" stroke="#151515" stroke-width="0.25" fill="#151515">and</text>
<text x="1328.38" y="366.3" font-size="15.3" textLength="16.78" lengthAdjust="spacingAndGlyphs" stroke="#151515" stroke-width="0.25" fill="#151515">5V</text>
<text x="1350.79" y="366.3" font-size="15.3" textLength="48.96" lengthAdjust="spacingAndGlyphs" stroke="#151515" stroke-width="0.25" fill="#151515">Output</text>
<rect x="1146.2" y="379.5" width="258.3" height="27.2" fill="#c2c2c2"/>
<line x1="1146.2" y1="379.5" x2="1404.5" y2="379.5" stroke="#222" stroke-width="1.0"/>
<line x1="1146.2" y1="406.7" x2="1404.5" y2="406.7" stroke="#555" stroke-width="1.0"/>
<line x1="1146.2" y1="434.2" x2="1404.5" y2="434.2" stroke="#222" stroke-width="1.0"/>
<line x1="1146.2" y1="461.7" x2="1404.5" y2="461.7" stroke="#222" stroke-width="1.0"/>
<line x1="1146.2" y1="489.3" x2="1404.5" y2="489.3" stroke="#222" stroke-width="1.0"/>
<line x1="1146.2" y1="516.4" x2="1404.5" y2="516.4" stroke="#222" stroke-width="1.0"/>
<line x1="1146.2" y1="544.0" x2="1404.5" y2="544.0" stroke="#222" stroke-width="1.0"/>
<line x1="1146.2" y1="571.5" x2="1404.5" y2="571.5" stroke="#222" stroke-width="1.0"/>
<line x1="1146.4" y1="379.0" x2="1146.4" y2="572.0" stroke="#222" stroke-width="1.0"/>
<line x1="1223.4" y1="379.0" x2="1223.4" y2="572.0" stroke="#222" stroke-width="1.0"/>
<line x1="1404.5" y1="379.0" x2="1404.5" y2="572.0" stroke="#222" stroke-width="1.0"/>
<text x="1172.91" y="399.3" font-size="16.3" textLength="23.30" lengthAdjust="spacingAndGlyphs" stroke="#151515" stroke-width="0.2" fill="#151515">Pin</text>
<text x="1277.50" y="399.3" font-size="16.3" textLength="72.71" lengthAdjust="spacingAndGlyphs" stroke="#151515" stroke-width="0.2" fill="#151515">Definition</text>
<text x="1179.85" y="426.6" font-size="16.3" textLength="9.26" lengthAdjust="spacingAndGlyphs" stroke="#151515" stroke-width="0.2" fill="#151515">1</text>
<text x="1301.86" y="426.6" font-size="16.3" textLength="25.03" lengthAdjust="spacingAndGlyphs" stroke="#151515" stroke-width="0.2" fill="#151515">VIN</text>
<text x="1180.31" y="454.1" font-size="16.3" textLength="8.75" lengthAdjust="spacingAndGlyphs" stroke="#151515" stroke-width="0.2" fill="#151515">2</text>
<text x="1304.16" y="454.1" font-size="16.3" textLength="20.40" lengthAdjust="spacingAndGlyphs" stroke="#151515" stroke-width="0.2" fill="#151515">VN</text>
<text x="1180.53" y="481.6" font-size="16.3" textLength="8.43" lengthAdjust="spacingAndGlyphs" stroke="#151515" stroke-width="0.2" fill="#151515">3</text>
<text x="1296.73" y="481.6" font-size="16.3" textLength="34.09" lengthAdjust="spacingAndGlyphs" stroke="#151515" stroke-width="0.2" fill="#151515">GND</text>
<text x="1180.78" y="509.2" font-size="16.3" textLength="7.93" lengthAdjust="spacingAndGlyphs" stroke="#151515" stroke-width="0.2" fill="#151515">4</text>
<text x="1296.73" y="509.2" font-size="16.3" textLength="34.09" lengthAdjust="spacingAndGlyphs" stroke="#151515" stroke-width="0.2" fill="#151515">GND</text>
<text x="1180.49" y="536.3" font-size="16.3" textLength="8.43" lengthAdjust="spacingAndGlyphs" stroke="#151515" stroke-width="0.2" fill="#151515">5</text>
<text x="1294.48" y="536.3" font-size="16.3" textLength="37.74" lengthAdjust="spacingAndGlyphs" stroke="#151515" stroke-width="0.2" fill="#151515">BATT</text>
<text x="1180.32" y="563.9" font-size="16.3" textLength="8.66" lengthAdjust="spacingAndGlyphs" stroke="#151515" stroke-width="0.2" fill="#151515">6</text>
<text x="1304.30" y="563.9" font-size="16.3" textLength="18.49" lengthAdjust="spacingAndGlyphs" stroke="#151515" stroke-width="0.2" fill="#151515">5V</text>
<text x="1487.98" y="43.1" font-size="15.5" font-weight="bold" textLength="81.45" lengthAdjust="spacingAndGlyphs" fill="#151515">Discharging</text>
<text x="1573.71" y="43.1" font-size="15.5" font-weight="bold" textLength="52.63" lengthAdjust="spacingAndGlyphs" fill="#151515">Control</text>
<text x="1628.40" y="42.5" font-size="15.5" font-weight="bold" fill="#151515">:</text>
<rect x="1489.9" y="64.5" width="1.3" height="1.3" fill="#555"/>
<text x="1491.53" y="69.7" font-size="15.3" textLength="16.29" lengthAdjust="spacingAndGlyphs" stroke="#151515" stroke-width="0.25" fill="#151515">S1</text>
<rect x="1529.9" y="83.7" width="257.9" height="27.1" fill="#c2c2c2"/>
<line x1="1529.9" y1="83.7" x2="1787.8" y2="83.7" stroke="#222" stroke-width="1.0"/>
<line x1="1529.9" y1="110.8" x2="1787.8" y2="110.8" stroke="#555" stroke-width="1.0"/>
<line x1="1529.9" y1="138.1" x2="1787.8" y2="138.1" stroke="#222" stroke-width="1.0"/>
<line x1="1529.9" y1="165.6" x2="1787.8" y2="165.6" stroke="#222" stroke-width="1.0"/>
<line x1="1529.9" y1="83.2" x2="1529.9" y2="166.1" stroke="#222" stroke-width="1.0"/>
<line x1="1630.7" y1="83.2" x2="1630.7" y2="166.1" stroke="#222" stroke-width="1.0"/>
<line x1="1787.8" y1="83.2" x2="1787.8" y2="166.1" stroke="#222" stroke-width="1.0"/>
<text x="1557.81" y="103.1" font-size="16.3" textLength="44.92" lengthAdjust="spacingAndGlyphs" stroke="#151515" stroke-width="0.25" fill="#151515">Status</text>
<text x="1677.19" y="103.1" font-size="16.3" textLength="63.83" lengthAdjust="spacingAndGlyphs" stroke="#151515" stroke-width="0.25" fill="#151515">Function</text>
<text x="1551.68" y="130.4" font-size="16.3" textLength="56.69" lengthAdjust="spacingAndGlyphs" stroke="#151515" stroke-width="0.25" fill="#151515">ENABLE</text>
<text x="1640.69" y="130.4" font-size="16.3" textLength="48.06" lengthAdjust="spacingAndGlyphs" stroke="#151515" stroke-width="0.25" fill="#151515">Enable</text>
<text x="1693.85" y="130.4" font-size="16.3" textLength="84.44" lengthAdjust="spacingAndGlyphs" stroke="#151515" stroke-width="0.25" fill="#151515">Discharging</text>
<text x="1549.99" y="157.7" font-size="16.3" textLength="59.67" lengthAdjust="spacingAndGlyphs" stroke="#151515" stroke-width="0.25" fill="#151515">DISABLE</text>
<text x="1648.82" y="157.7" font-size="16.3" textLength="32.42" lengthAdjust="spacingAndGlyphs" stroke="#151515" stroke-width="0.25" fill="#151515">Stop</text>
<text x="1686.05" y="157.7" font-size="16.3" textLength="84.23" lengthAdjust="spacingAndGlyphs" stroke="#151515" stroke-width="0.25" fill="#151515">Discharging</text>
<text x="1488.05" y="236.7" font-size="15.5" font-weight="bold" textLength="26.07" lengthAdjust="spacingAndGlyphs" fill="#151515">LED</text>
<text x="1518.24" y="236.7" font-size="15.5" font-weight="bold" textLength="70.74" lengthAdjust="spacingAndGlyphs" fill="#151515">Indicators</text>
<text x="1592.51" y="236.7" font-size="15.5" font-weight="bold" textLength="62.16" lengthAdjust="spacingAndGlyphs" fill="#151515">(Position</text>
<text x="1658.75" y="236.7" font-size="15.5" font-weight="bold" textLength="14.93" lengthAdjust="spacingAndGlyphs" fill="#151515">A)</text>
<text x="1678.28" y="236.7" font-size="15.5" font-weight="bold" textLength="19.61" lengthAdjust="spacingAndGlyphs" fill="#151515">for</text>
<text x="1702.64" y="236.7" font-size="15.5" font-weight="bold" textLength="50.91" lengthAdjust="spacingAndGlyphs" fill="#151515">Battery</text>
<text x="1758.46" y="236.7" font-size="15.5" font-weight="bold" textLength="36.84" lengthAdjust="spacingAndGlyphs" fill="#151515">Level</text>
<text x="1799.21" y="236.7" font-size="15.5" font-weight="bold" textLength="48.27" lengthAdjust="spacingAndGlyphs" fill="#151515">Status:</text>
<rect x="1490.2" y="257.2" width="1.3" height="1.3" fill="#555"/>
<text x="1491.83" y="262.4" font-size="15.3" textLength="30.79" lengthAdjust="spacingAndGlyphs" stroke="#151515" stroke-width="0.25" fill="#151515">Four</text>
<text x="1527.57" y="262.4" font-size="15.3" textLength="25.74" lengthAdjust="spacingAndGlyphs" stroke="#151515" stroke-width="0.25" fill="#151515">LED</text>
<text x="1557.29" y="262.4" font-size="15.3" textLength="68.04" lengthAdjust="spacingAndGlyphs" stroke="#151515" stroke-width="0.25" fill="#151515">indicators</text>
<text x="1629.92" y="262.4" font-size="15.3" textLength="18.79" lengthAdjust="spacingAndGlyphs" stroke="#151515" stroke-width="0.25" fill="#151515">for</text>
<text x="1653.32" y="262.4" font-size="15.3" textLength="49.15" lengthAdjust="spacingAndGlyphs" stroke="#151515" stroke-width="0.25" fill="#151515">battery</text>
<text x="1707.71" y="262.4" font-size="15.3" textLength="32.06" lengthAdjust="spacingAndGlyphs" stroke="#151515" stroke-width="0.25" fill="#151515">level</text>
<text x="1743.90" y="262.4" font-size="15.3" textLength="41.33" lengthAdjust="spacingAndGlyphs" stroke="#151515" stroke-width="0.25" fill="#151515">status</text>
<text x="1505.30" y="289.6" font-size="15.3" textLength="36.09" lengthAdjust="spacingAndGlyphs" stroke="#151515" stroke-width="0.25" fill="#151515">Press</text>
<text x="1545.17" y="289.6" font-size="15.3" textLength="49.51" lengthAdjust="spacingAndGlyphs" stroke="#151515" stroke-width="0.25" fill="#151515">Battery</text>
<text x="1599.63" y="289.6" font-size="15.3" textLength="35.62" lengthAdjust="spacingAndGlyphs" stroke="#151515" stroke-width="0.25" fill="#151515">Level</text>
<text x="1638.72" y="289.6" font-size="15.3" textLength="46.99" lengthAdjust="spacingAndGlyphs" stroke="#151515" stroke-width="0.25" fill="#151515">Button</text>
<text x="1690.73" y="289.6" font-size="15.3" textLength="18.58" lengthAdjust="spacingAndGlyphs" stroke="#151515" stroke-width="0.25" fill="#151515">for</text>
<text x="1713.98" y="289.6" font-size="15.3" textLength="60.18" lengthAdjust="spacingAndGlyphs" stroke="#151515" stroke-width="0.25" fill="#151515">checking</text>
<text x="1777.92" y="289.6" font-size="15.3" textLength="49.25" lengthAdjust="spacingAndGlyphs" stroke="#151515" stroke-width="0.25" fill="#151515">battery</text>
<text x="1832.40" y="289.6" font-size="15.3" textLength="32.28" lengthAdjust="spacingAndGlyphs" stroke="#151515" stroke-width="0.25" fill="#151515">level</text>
<text x="1506.39" y="342.8" font-size="15.3" textLength="39.26" lengthAdjust="spacingAndGlyphs" stroke="#151515" stroke-width="0.25" fill="#151515">When</text>
<text x="1550.98" y="342.8" font-size="15.3" textLength="62.75" lengthAdjust="spacingAndGlyphs" stroke="#151515" stroke-width="0.25" fill="#151515">charging,</text>
<text x="1617.76" y="342.8" font-size="15.3" textLength="99.80" lengthAdjust="spacingAndGlyphs" stroke="#151515" stroke-width="0.25" fill="#151515">corresponding</text>
<text x="1721.98" y="342.8" font-size="15.3" textLength="25.42" lengthAdjust="spacingAndGlyphs" stroke="#151515" stroke-width="0.25" fill="#151515">LED</text>
<text x="1751.58" y="342.8" font-size="15.3" textLength="60.63" lengthAdjust="spacingAndGlyphs" stroke="#151515" stroke-width="0.25" fill="#151515">indicator</text>
<text x="1817.86" y="342.8" font-size="15.3" textLength="20.03" lengthAdjust="spacingAndGlyphs" stroke="#151515" stroke-width="0.25" fill="#151515">will</text>
<text x="1842.48" y="342.8" font-size="15.3" textLength="16.88" lengthAdjust="spacingAndGlyphs" stroke="#151515" stroke-width="0.25" fill="#151515">be</text>
<text x="1865.05" y="342.8" font-size="15.3" textLength="26.79" lengthAdjust="spacingAndGlyphs" stroke="#151515" stroke-width="0.25" fill="#151515">ON.</text>
</g>
</svg>
</body></html>
